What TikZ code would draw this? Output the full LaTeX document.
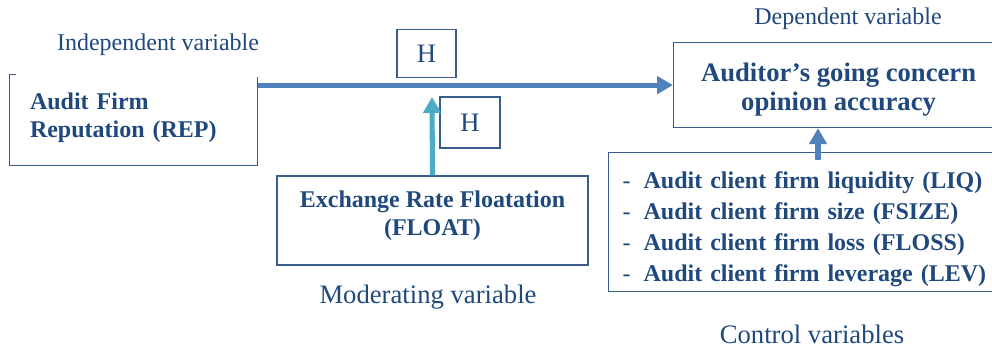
\documentclass[tikz,border=0pt]{standalone}
\usepackage{fontspec}
\setmainfont{Liberation Serif}
\usepackage{tikz}
\usetikzlibrary{arrows.meta}
\usetikzlibrary{calc}
\definecolor{txtblue}{RGB}{31,73,125}
\definecolor{boxblue}{RGB}{56,93,138}
\definecolor{arrowblue}{RGB}{79,129,189}
\definecolor{arrowteal}{RGB}{75,172,198}
\newcommand{\pxunit}{0.75pt}
\newcommand{\ctrlitem}[1]{\makebox[15.75pt][l]{\mdseries -}#1}

\begin{document}
\begin{tikzpicture}[x=0.75pt,y=-0.75pt,
    varlabel/.style={text=txtblue, font=\fontsize{18}{21}\selectfont, inner sep=0pt},
    biglabel/.style={varlabel, font=\fontsize{20}{23}\selectfont},
    varbox/.style={draw=boxblue, line width=0.9pt, text=txtblue, font=\fontsize{18}{21}\selectfont\bfseries, inner sep=0pt},
    hbox/.style={draw=boxblue, line width=0.9pt, text=txtblue, font=\fontsize{20}{23}\selectfont, minimum width={59*\pxunit}, minimum height={48*\pxunit}, inner sep=0pt},
    linkarrow/.style={draw=arrowblue, line width=3.8pt, -{Triangle[length=12pt,width=13pt]}}]
    \useasboundingbox (0,0) rectangle (992,347);

    \node[varlabel] (indep) at (158,45) {Independent variable};
    \node[varbox, draw=none, minimum height={90*\pxunit}, text width={207*\pxunit}, inner xsep={20*\pxunit}, align=left] (rep) at (133.5,120) {Audit Firm\\Reputation (REP)\rule[-7pt]{0pt}{7pt}};
    \draw[boxblue, line width=0.9pt] ($(rep.north west)+(7,0)$) -- (rep.north west) -- (rep.south west) -- (rep.south east) -- ($(rep.north east)+(0,3)$);

    \node[varlabel] (deplabel) at (848,19) {Dependent variable};
    \node[varbox, anchor=north west, minimum width={330*\pxunit}, minimum height={85*\pxunit}, align=center, font=\fontsize{20}{21.75}\selectfont\bfseries] (dep) at (673,42) {\rule{0pt}{21pt}Auditor’s going concern\\opinion accuracy};

    \node[hbox] (h1) at (426.5,53.5) {H};
    \node[hbox, minimum width={60*\pxunit}, minimum height={51*\pxunit}] (h2) at (470,122.5) {H};

    \node[varbox, minimum width={311*\pxunit}, minimum height={89*\pxunit}, align=center] (float) at (432.5,220.5) {Exchange Rate Floatation\\(FLOAT)\rule[-11.5pt]{0pt}{11.5pt}};
    \node[biglabel] (modlabel) at (428,297) {Moderating variable};

    \node[varbox, anchor=north west, minimum height={139*\pxunit}, text width={374*\pxunit}, inner xsep={14*\pxunit}, align=left, font=\fontsize{18}{23.25}\selectfont\bfseries] (ctrl) at (608,152) {\rule{0pt}{23.5pt}\ctrlitem{Audit client firm liquidity (LIQ)}\\\ctrlitem{Audit client firm size (FSIZE)}\\\ctrlitem{Audit client firm loss (FLOSS)}\\\ctrlitem{Audit client firm leverage (LEV)}};
    \node[biglabel] (ctrllabel) at (812,334) {Control variables};

    \coordinate (modtip) at (432,97);
    \coordinate (ctrlfoot) at (818,160);
    \draw[linkarrow] (rep.east |- dep.west) -- (dep.west);
    \draw[linkarrow, draw=arrowteal] (float.north) -- (modtip);
    \draw[linkarrow] (ctrlfoot) -- (ctrlfoot |- dep.south);
\end{tikzpicture}
\end{document}
